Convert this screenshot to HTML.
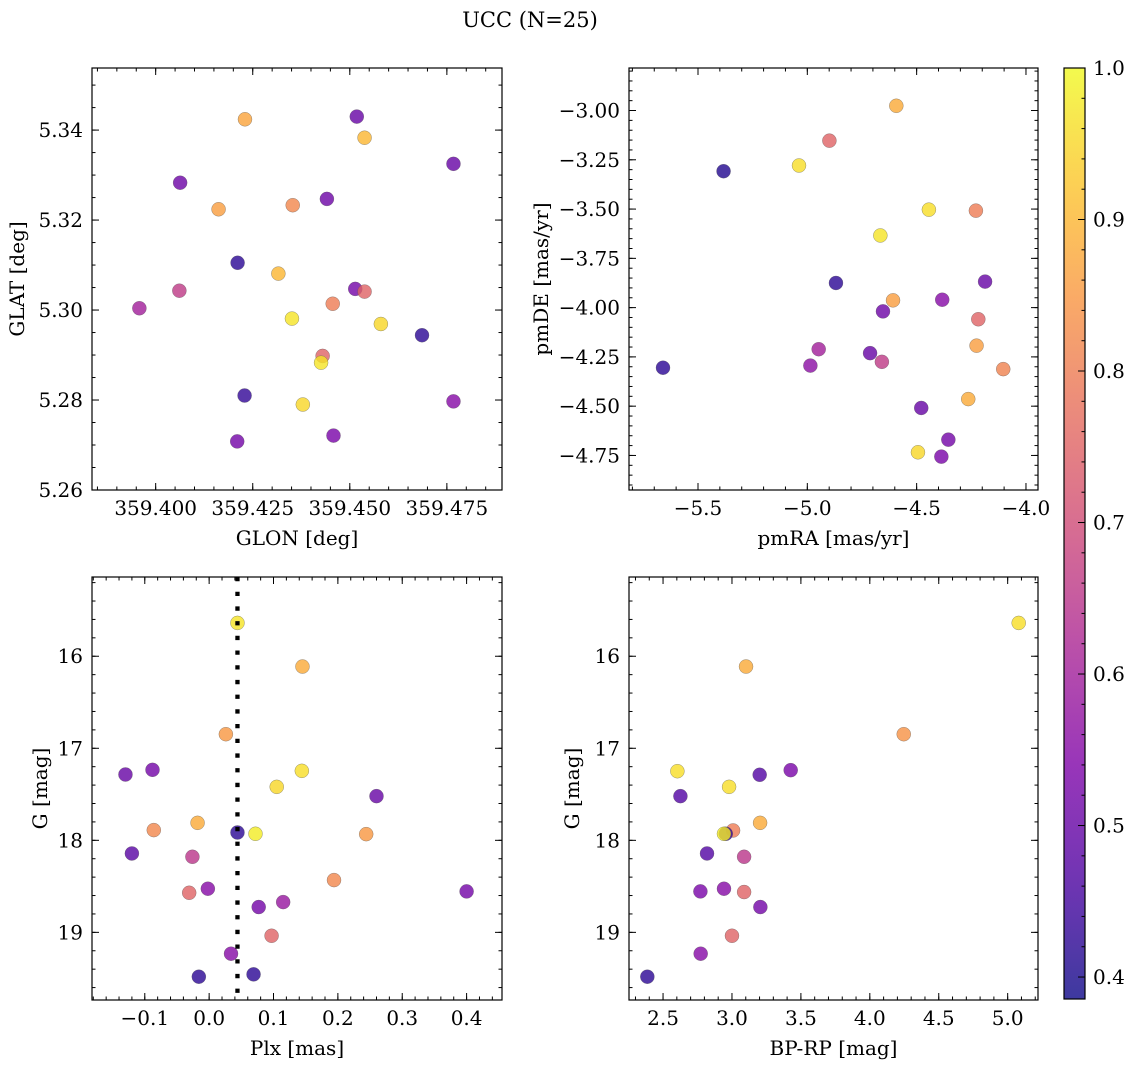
<!DOCTYPE html>
<html><head><meta charset="utf-8">
<style>
html,body{margin:0;padding:0;background:#fff;}
svg{display:block;font-family:"DejaVu Serif","Liberation Serif",serif;}
</style></head>
<body>
<svg id="fig" width="1136" height="1067" viewBox="0 0 1136 1067" xmlns="http://www.w3.org/2000/svg">
<text x="530" y="20" font-size="21" text-anchor="middle" dominant-baseline="central">UCC (N=25)</text>
</svg>
<script>
// ---- Panel 1 data: GLON / GLAT ----
const p1GLON = [359.4230,359.4518,359.4538,359.4767,359.4063,359.4162,359.4353,359.4441,359.4211,359.4316,359.4061,359.4514,359.4538,359.4456,359.3958,359.4351,359.4580,359.4686,359.4430,359.4426,359.4229,359.4379,359.4767,359.4210,359.4458];
const p1GLAT = [5.3424,5.3430,5.3383,5.3325,5.3283,5.3224,5.3233,5.3247,5.3105,5.3081,5.3043,5.3047,5.3041,5.3014,5.3004,5.2981,5.2969,5.2944,5.2898,5.2883,5.2810,5.2790,5.2797,5.2708,5.2721];
const p1Prob = [0.87,0.50,0.90,0.50,0.51,0.86,0.82,0.51,0.42,0.90,0.66,0.52,0.75,0.80,0.60,0.97,0.95,0.42,0.75,0.97,0.43,0.95,0.55,0.52,0.53];
const p1XTicks = [359.400,359.425,359.450,359.475];
const p1YTicks = [5.26,5.28,5.30,5.32,5.34];
// ---- Panel 2 data: pmRA / pmDE ----
const pmRA = [-4.593,-4.899,-5.038,-5.383,-4.444,-4.229,-4.666,-4.869,-4.187,-4.608,-4.383,-4.654,-4.218,-4.226,-4.948,-4.713,-4.659,-4.986,-5.660,-4.104,-4.264,-4.479,-4.355,-4.494,-4.387];
const pmDE = [-2.976,-3.153,-3.279,-3.308,-3.503,-3.508,-3.634,-3.875,-3.868,-3.963,-3.960,-4.019,-4.059,-4.193,-4.211,-4.231,-4.275,-4.294,-4.305,-4.312,-4.464,-4.509,-4.670,-4.734,-4.756];
const p2Prob = [0.88,0.75,0.96,0.41,0.96,0.80,0.97,0.42,0.50,0.86,0.55,0.51,0.75,0.86,0.60,0.50,0.66,0.56,0.42,0.81,0.88,0.50,0.52,0.95,0.53];
const p2XTicks = [-5.5,-5.0,-4.5,-4.0];
const p2YTicks = [-4.75,-4.50,-4.25,-4.00,-3.75,-3.50,-3.25,-3.00];
// ---- Panel 3 data: Plx / G ----
const plx = [0.044,0.145,0.026,-0.130,-0.088,0.144,0.105,0.260,-0.018,-0.086,0.044,0.072,0.244,-0.120,-0.026,0.194,-0.031,-0.002,0.400,0.115,0.077,0.097,0.034,-0.016,0.069];
const gmag3 = [15.638,16.112,16.847,17.285,17.234,17.245,17.419,17.520,17.810,17.889,17.915,17.929,17.933,18.143,18.179,18.432,18.570,18.526,18.555,18.671,18.725,19.037,19.232,19.482,19.456];
const p3Prob = [0.97,0.88,0.85,0.50,0.52,0.96,0.95,0.50,0.88,0.82,0.42,0.98,0.85,0.48,0.65,0.82,0.75,0.55,0.52,0.58,0.52,0.75,0.55,0.42,0.42];
const plxMedian = 0.044;
const p3XTicks = [-0.1,0.0,0.1,0.2,0.3,0.4];
const gTicks = [16,17,18,19];
// ---- Panel 4 data: BP-RP / G ----
const bprp = [5.080,3.102,4.246,2.604,3.201,3.426,2.979,2.626,3.204,3.008,2.955,2.942,2.819,3.088,2.771,2.942,3.088,3.206,3.000,2.773,2.386];
const gmag4 = [15.638,16.112,16.847,17.249,17.288,17.238,17.419,17.520,17.810,17.893,17.929,17.929,18.143,18.179,18.555,18.526,18.562,18.725,19.037,19.232,19.482];
const p4Prob = [0.96,0.88,0.84,0.96,0.47,0.53,0.96,0.47,0.88,0.80,0.43,0.98,0.47,0.65,0.53,0.55,0.75,0.52,0.75,0.55,0.42];
const p4XTicks = [2.5,3.0,3.5,4.0,4.5,5.0];
// ---- Colorbar ----
const cbTicks = [0.4,0.5,0.6,0.7,0.8,0.9,1.0];
const cbMin = 0.3855, cbMax = 1.0;

const FS = 20;
const NS = "http://www.w3.org/2000/svg";
const svg = document.getElementById('fig');
function mk(tag, attrs, parent){
  const e = document.createElementNS(NS, tag);
  for (const k in attrs) e.setAttribute(k, attrs[k]);
  (parent||svg).appendChild(e);
  return e;
}
const plasmaStops = [[0,[13,8,135]],[0.125,[76,2,161]],[0.25,[126,3,168]],[0.375,[169,35,149]],[0.5,[204,71,120]],[0.625,[229,107,93]],[0.75,[248,148,65]],[0.875,[253,195,40]],[1,[240,249,33]]];
function plasma(t){
  t = Math.max(0, Math.min(1, t));
  for (let i=1;i<plasmaStops.length;i++){
    if (t <= plasmaStops[i][0]){
      const a = plasmaStops[i-1], b = plasmaStops[i];
      const f = (t-a[0])/(b[0]-a[0]);
      const c = a[1].map((v,j)=>Math.round(v+(b[1][j]-v)*f));
      return 'rgb('+c.join(',')+')';
    }
  }
  return 'rgb(240,249,33)';
}
function fmt(v, d){ return (v<0?'\u2212':'') + Math.abs(v).toFixed(d); }

function panel(cfg, xs, ys, ps, name){
  const g = mk('g', {});
  
  
  const X = v => cfg.L + (v-cfg.x0)/(cfg.x1-cfg.x0)*(cfg.R-cfg.L);
  const Y = cfg.invert ? (v => cfg.T + (v-cfg.y0)/(cfg.y1-cfg.y0)*(cfg.B-cfg.T))
                       : (v => cfg.B - (v-cfg.y0)/(cfg.y1-cfg.y0)*(cfg.B-cfg.T));
  for (let i=0;i<xs.length;i++){
    const c = mk('circle', {cx:X(xs[i]), cy:Y(ys[i]), r:7, fill:plasma((ps[i]-cbMin)/(cbMax-cbMin)), 'fill-opacity':0.8, stroke:'#555', 'stroke-opacity':0.6, 'stroke-width':0.5}, g);
    
    
  }
  if (cfg.vline !== undefined){
    const l = mk('line', {x1:X(cfg.vline), x2:X(cfg.vline), y1:cfg.T, y2:cfg.B, stroke:'#000', 'stroke-width':4.3, 'stroke-dasharray':'4.3 10.4'}, g);
    
    
  }
  const tk = mk('g', {stroke:'#000', 'stroke-width':1}, g);
  
  
  function xtick(v, len){
    const x = X(v); if (x < cfg.L-0.5 || x > cfg.R+0.5) return;
    mk('line', {x1:x, x2:x, y1:cfg.B, y2:cfg.B-len}, tk);
    mk('line', {x1:x, x2:x, y1:cfg.T, y2:cfg.T+len}, tk);
  }
  function ytick(v, len){
    const y = Y(v); if (y < cfg.T-0.5 || y > cfg.B+0.5) return;
    mk('line', {x1:cfg.L, x2:cfg.L+len, y1:y, y2:y}, tk);
    mk('line', {x1:cfg.R, x2:cfg.R-len, y1:y, y2:y}, tk);
  }
  const xa = Math.min(cfg.x0,cfg.x1), xb = Math.max(cfg.x0,cfg.x1);
  for (let k=Math.ceil(xa/cfg.xm-1e-6); k*cfg.xm<=xb+1e-9; k++) xtick(k*cfg.xm, 3.5);
  const ya = Math.min(cfg.y0,cfg.y1), yb = Math.max(cfg.y0,cfg.y1);
  for (let k=Math.ceil(ya/cfg.ym-1e-6); k*cfg.ym<=yb+1e-9; k++) ytick(k*cfg.ym, 3.5);
  cfg.xt.forEach(v=>{
    xtick(v, 7);
    const t = mk('text', {x:X(v), y:cfg.B+18, 'font-size':FS, 'text-anchor':'middle', 'dominant-baseline':'central'}, g);
    t.textContent = fmt(v, cfg.xd);
    
    
  });
  cfg.yt.forEach(v=>{
    ytick(v, 7);
    const t = mk('text', {x:cfg.L-9, y:Y(v), 'font-size':FS, 'text-anchor':'end', 'dominant-baseline':'central'}, g);
    t.textContent = fmt(v, cfg.yd);
    
    
  });
  const fr = mk('rect', {x:cfg.L, y:cfg.T, width:cfg.R-cfg.L, height:cfg.B-cfg.T, fill:'none', stroke:'#000', 'stroke-width':1.2}, g);
  
  
  const xl = mk('text', {x:(cfg.L+cfg.R)/2, y:cfg.B+48, 'font-size':FS, 'text-anchor':'middle', 'dominant-baseline':'central'}, g);
  xl.textContent = cfg.xlabel;
  
  
  const yc = (cfg.T+cfg.B)/2;
  const yl = mk('text', {x:cfg.ylx, y:yc, 'font-size':FS, 'text-anchor':'middle', 'dominant-baseline':'central', transform:'rotate(-90 '+cfg.ylx+' '+yc+')'}, g);
  yl.textContent = cfg.ylabel;
  
  
}

panel({L:92,R:502,T:68,B:490,x0:359.3836,x1:359.4892,y0:5.26,y1:5.3538,xm:0.005,ym:0.005,xt:p1XTicks,yt:p1YTicks,xd:3,yd:2,xlabel:'GLON [deg]',ylabel:'GLAT [deg]',ylx:17}, p1GLON, p1GLAT, p1Prob, 'panel-glon-glat');
panel({L:629,R:1038,T:68,B:490,x0:-5.8155,x1:-3.945,y0:-4.9253,y1:-2.7843,xm:0.1,ym:0.05,xt:p2XTicks,yt:p2YTicks,xd:1,yd:2,xlabel:'pmRA [mas/yr]',ylabel:'pmDE [mas/yr]',ylx:541}, pmRA, pmDE, p2Prob, 'panel-pmra-pmde');
panel({L:92,R:502,T:577,B:1000,x0:-0.182,x1:0.455,y0:15.139,y1:19.735,invert:true,xm:0.02,ym:0.2,xt:p3XTicks,yt:gTicks,xd:1,yd:0,xlabel:'Plx [mas]',ylabel:'G [mag]',ylx:40,vline:plxMedian}, plx, gmag3, p3Prob, 'panel-plx-g');
panel({L:629,R:1038,T:577,B:1000,x0:2.253,x1:5.220,y0:15.139,y1:19.735,invert:true,xm:0.1,ym:0.2,xt:p4XTicks,yt:gTicks,xd:1,yd:0,xlabel:'BP-RP [mag]',ylabel:'G [mag]',ylx:572}, bprp, gmag4, p4Prob, 'panel-bprp-g');

(function(){
  const L=1064,R=1085,T=68,B=999;
  const defs = mk('defs', {});
  const lg = mk('linearGradient', {id:'cbgrad', x1:0, y1:1, x2:0, y2:0}, defs);
  for (let i=0;i<=20;i++){
    mk('stop', {offset:(i/20), 'stop-color':plasma(i/20), 'stop-opacity':0.8}, lg);
  }
  const g = mk('g', {});
  
  
  mk('rect', {x:L, y:T, width:R-L, height:B-T, fill:'url(#cbgrad)'}, g);
  const Y = v => B - (v-cbMin)/(cbMax-cbMin)*(B-T);
  for (let k=Math.ceil(cbMin/0.02-1e-6); k*0.02<=cbMax+1e-9; k++){
    const y = Y(k*0.02);
    mk('line', {x1:R, x2:R-3.5, y1:y, y2:y, stroke:'#000', 'stroke-width':1}, g);
  }
  cbTicks.forEach(v=>{
    const y = Y(v);
    mk('line', {x1:R, x2:R-7, y1:y, y2:y, stroke:'#000', 'stroke-width':1}, g);
    const t = mk('text', {x:R+8, y:y, 'font-size':FS, 'dominant-baseline':'central'}, g);
    t.textContent = v.toFixed(1);
    
    
  });
  mk('rect', {x:L, y:T, width:R-L, height:B-T, fill:'none', stroke:'#000', 'stroke-width':1.2}, g);
})();
</script>
</body></html>
